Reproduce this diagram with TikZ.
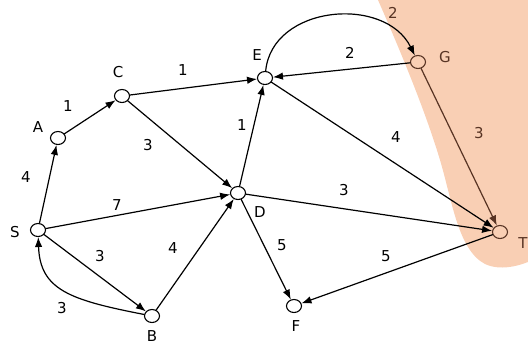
\documentclass[tikz,border=0pt]{standalone}
\usepackage{fontspec}
\setmainfont{DejaVu Sans}
\usepackage{xcolor}
\usetikzlibrary{arrows.meta,shapes.geometric}
\definecolor{peach}{RGB}{249,207,180}
\definecolor{inkbrown}{RGB}{88,52,36}

\begin{document}
\begin{tikzpicture}[x=1pt,y=-1pt, font=\fontsize{15}{17}\selectfont, line cap=round, line join=round]
	\useasboundingbox (0,0) rectangle (528,346);
	% ===== shaded region =====
	\fill[peach] (378,0) .. controls (400,50) and (425,110) .. (440,160)
		.. controls (452,200) and (458,250) .. (485,264)
		.. controls (500,271) and (518,266) .. (528,262) -- (528,0) -- cycle;
	
	% ===== styles =====
	\tikzset{vtx/.style={draw, ellipse, minimum width=15pt, minimum height=13pt, inner sep=0pt, line width=1.1pt},
		arr/.style={draw, line width=1.2pt, -{Latex[length=10pt,width=7.5pt]}},
		wt/.style={inner sep=1pt}}
	
	% ===== vertices =====
	\foreach \n/\x/\y in {S/38/230, A/58/138, C/122/96, E/265/78, D/238/193, B/152/316, F/294/306}{
		\node[vtx] (\n) at (\x,\y) {};
	}
	\node[vtx, draw=inkbrown] (G) at (418,62) {};
	\node[vtx, draw=inkbrown] (T) at (500,232) {};
	
	% ===== vertex names =====
	\node (lS) at (15,232) {S};
	\node (lA) at (38,127) {A};
	\node (lC) at (118,72) {C};
	\node (lE) at (257,55) {E};
	\node (lD) at (260,212) {D};
	\node (lB) at (152,336) {B};
	\node (lF) at (296,326) {F};
	\node[inkbrown] (lG) at (445,57) {G};
	\node[inkbrown] (lT) at (523,243) {T};
	
	% ===== edges =====
	\foreach \a/\b in {S/A, A/C, C/E, C/D, D/E, G/E, E/T, S/D, S/B, B/D, D/T, D/F, T/F}{
		\draw[arr] (\a) -- (\b);
	}
	\draw[arr, inkbrown] (G) -- (T);
	\draw[arr] (E) .. controls (272,5) and (385,-5) .. (G);
	\draw[arr] (B) .. controls (70,300) and (40,290) .. (S);
	
	% ===== weights =====
	\foreach \n/\x/\y/\w in {SA/26/177/4, AC/68/106/1, CE/183/70/1, CD/148/145/3, DE/242/125/1,
		GE/350/53/2, ET/396/137/4, SD/117/205/7, SB/100/256/3, BS/62/308/3, BD/173/248/4,
		DT/344/190/3, DF/282/245/5, TF/386/256/5}{
		\node[wt] (w\n) at (\x,\y) {\w};
	}
	\node[wt, inkbrown] (wEG) at (393,13) {2};
	\node[wt, inkbrown] (wGT) at (479,133) {3};
\end{tikzpicture}
\end{document}
